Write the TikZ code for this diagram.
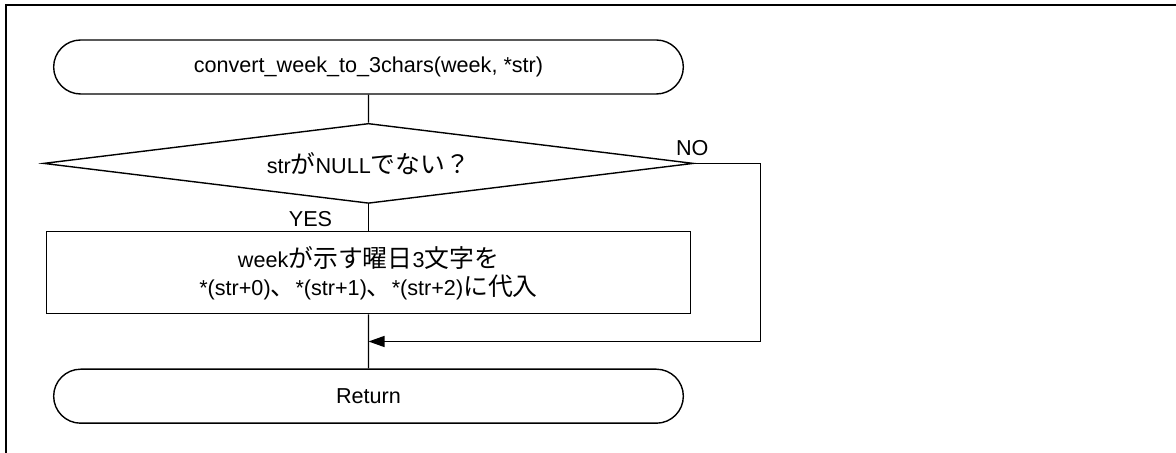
\documentclass[tikz,border=0pt]{standalone}
\usepackage{fontspec}
\setmainfont{Liberation Sans}
\newfontfamily\cjk[Scale=1.15]{Noto Sans CJK JP}
\newcommand{\jp}[1]{{\cjk #1}}
\usetikzlibrary{positioning, calc, shapes.geometric, shapes.misc, arrows.meta}
\tikzset{
    every node/.style = {font=\fontsize{10.8}{14}\selectfont},
    term/.style = {
        draw, rounded rectangle,
        minimum width = 321.5pt,
        minimum height = 27pt
    },
    decision/.style = {
        draw, diamond, inner sep = 0pt,
        aspect = 8.1,
        minimum width = 325pt,
        minimum height = 40pt
    },
    block/.style = {
        draw, minimum width = 322pt,
        minimum height = 41pt,
        align = center
    },
    line/.style = {-{Triangle[length=8pt, width=5.5pt]}}
}
\begin{document}
\begin{tikzpicture}[x=0.5pt, y=-0.5pt, line width=0.7pt]
    \useasboundingbox (0,0) rectangle (1176,453);

    % Frame
    \draw[line width=0.8pt] (6,453) -- (6,5) -- (1176,5);

    % Blocks
    \node[term] (start) at (368.5,67) {convert\_week\_to\_3chars(week, *str)};
    \node[decision, below = 14pt of start] (check) {str\jp{が}NULL\jp{でない？}};
    \node[block, below = 13.5pt of check] (copy) {week\jp{が示す曜日}3\jp{文字を}\\*(str+0)\jp{、}*(str+1)\jp{、}*(str+2)\jp{に代入}};
    \node[term, below = 27pt of copy] (ret) {Return};

    % Labels
    \node[above = 0pt of check.east, xshift=-1pt] (no) {NO};
    \node[below left = 0pt and 14.5pt of check.south] (yes) {YES};

    % Lines
    \coordinate[right = 33pt of check.east] (skip);
    \coordinate (merge) at ($(copy.south)!0.5!(ret.north)$);
    \draw (start) -- (check);
    \draw (check) -- (copy);
    \draw (copy) -- (ret);
    \draw[line] (check.east) -- (skip) |- (merge);

\end{tikzpicture}
\end{document}
